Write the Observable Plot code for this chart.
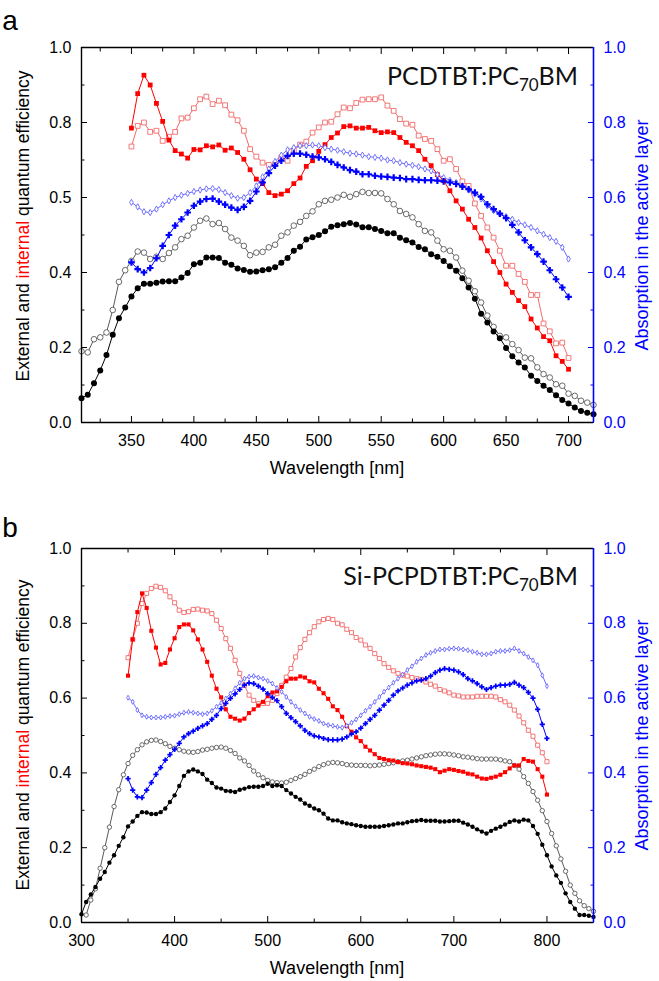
<!DOCTYPE html>
<html><head><meta charset="utf-8">
<script src="https://cdn.jsdelivr.net/npm/d3@7"></script>
<script src="https://cdn.jsdelivr.net/npm/@observablehq/plot@0.6"></script>
<style>
body{margin:0;background:#fff;}
#chart svg{display:block;}
</style>
</head><body><div id="chart"></div>
<script>
const STEP = 5; // nm between measurement points

// ---------- Panel a : PCDTBT:PC70BM ----------
const aStartEQE = 310, aStartIQE = 350;
const aEQE = [0.065,0.074,0.105,0.139,0.18,0.234,0.278,0.307,0.336,0.358,0.37,0.37,0.373,0.376,0.377,0.377,0.387,0.399,0.422,
0.426,0.44,0.44,0.439,0.426,0.421,0.411,0.407,0.402,0.403,0.406,0.409,0.414,0.426,0.439,0.458,0.469,0.488,0.494,0.5,
0.51,0.522,0.526,0.529,0.532,0.528,0.521,0.521,0.516,0.511,0.505,0.505,0.493,0.486,0.48,0.468,0.462,0.449,0.442,0.431,
0.417,0.405,0.385,0.36,0.33,0.29,0.267,0.243,0.225,0.199,0.177,0.16,0.147,0.125,0.111,0.098,0.087,0.073,0.06,0.051,
0.04,0.031,0.026,0.022];
const aEQE2 = [0.19,0.187,0.222,0.227,0.24,0.3,0.375,0.406,0.431,0.456,0.453,0.436,0.442,0.436,0.452,0.467,0.489,0.498,0.52,
0.538,0.544,0.529,0.532,0.516,0.493,0.485,0.471,0.446,0.453,0.455,0.467,0.474,0.498,0.507,0.525,0.535,0.551,0.563,0.582,
0.591,0.594,0.6,0.607,0.602,0.609,0.615,0.612,0.612,0.611,0.596,0.582,0.564,0.556,0.547,0.529,0.511,0.507,0.485,0.462,
0.458,0.44,0.405,0.378,0.35,0.32,0.285,0.255,0.231,0.227,0.209,0.193,0.173,0.171,0.147,0.129,0.12,0.102,0.098,0.077,
0.071,0.058,0.053,0.047];
const aIQE = [0.785,0.877,0.926,0.9,0.851,0.803,0.753,0.725,0.716,0.705,0.728,
0.727,0.738,0.735,0.74,0.726,0.732,0.72,0.702,0.674,0.649,0.637,0.613,0.605,0.609,0.618,0.637,0.652,0.683,0.698,0.723,
0.741,0.76,0.772,0.789,0.791,0.785,0.785,0.787,0.778,0.773,0.775,0.773,0.76,0.747,0.738,0.725,0.702,0.685,0.661,0.645,
0.618,0.591,0.569,0.542,0.52,0.492,0.458,0.429,0.4,0.369,0.347,0.325,0.309,0.276,0.252,0.229,0.218,0.178,0.163,0.142];
const aIQE2 = [0.736,0.791,0.8,0.775,0.778,0.751,0.762,0.775,0.811,0.813,0.838,
0.862,0.869,0.849,0.858,0.846,0.821,0.806,0.778,0.729,0.709,0.693,0.687,0.689,0.707,0.698,0.725,0.741,0.749,0.773,0.787,
0.8,0.802,0.822,0.84,0.838,0.852,0.861,0.862,0.862,0.867,0.845,0.831,0.809,0.797,0.794,0.765,0.756,0.751,0.729,0.698,
0.702,0.676,0.643,0.631,0.584,0.551,0.52,0.493,0.458,0.418,0.418,0.396,0.375,0.34,0.34,0.264,0.243,0.211,0.213,0.172];
const aAbs = [0.427,0.409,0.4,0.412,0.438,0.471,0.5,0.525,0.542,0.56,0.578,
0.589,0.596,0.597,0.589,0.581,0.573,0.567,0.575,0.591,0.616,0.64,0.665,0.685,0.698,0.711,0.717,0.717,0.714,0.709,0.707,
0.702,0.695,0.687,0.68,0.673,0.669,0.662,0.662,0.658,0.656,0.655,0.653,0.652,0.649,0.649,0.647,0.646,0.646,0.645,0.643,
0.64,0.636,0.629,0.622,0.613,0.602,0.582,0.569,0.557,0.545,0.527,0.507,0.486,0.467,0.449,0.429,0.406,0.382,0.36,0.335];
const aAbs2 = [0.587,0.575,0.562,0.56,0.569,0.581,0.591,0.6,0.606,0.611,0.616,
0.62,0.623,0.624,0.621,0.613,0.605,0.598,0.6,0.613,0.631,0.655,0.676,0.696,0.713,0.727,0.733,0.738,0.738,0.74,0.738,
0.733,0.729,0.726,0.722,0.718,0.716,0.713,0.709,0.707,0.705,0.7,0.698,0.693,0.689,0.686,0.682,0.676,0.671,0.661,0.653,
0.646,0.64,0.631,0.62,0.609,0.596,0.578,0.565,0.556,0.549,0.542,0.533,0.527,0.52,0.511,0.502,0.493,0.483,0.467,0.436];

// ---------- Panel b : Si-PCPDTBT:PC70BM ----------
const bStartEQE = 300, bStartEQE2 = 305, bStartIQE = 350;
const bEQE = [0.022,0.055,0.075,0.095,0.117,0.135,0.16,0.18,0.205,0.228,0.257,0.27,0.285,0.295,0.294,0.29,0.29,0.295,0.305,0.322,0.34,
0.365,0.392,0.404,0.409,0.404,0.397,0.382,0.373,0.361,0.358,0.352,0.351,0.349,0.355,0.358,0.362,0.363,0.363,0.365,0.371,
0.365,0.367,0.365,0.354,0.345,0.336,0.329,0.318,0.312,0.305,0.3,0.291,0.278,0.273,0.273,0.268,0.265,0.263,0.26,0.258,
0.256,0.256,0.256,0.256,0.258,0.26,0.262,0.265,0.265,0.268,0.271,0.272,0.274,0.272,0.272,0.272,0.27,0.27,0.271,0.272,
0.272,0.267,0.262,0.256,0.249,0.243,0.238,0.245,0.251,0.256,0.262,0.269,0.273,0.27,0.275,0.273,0.258,0.237,0.208,0.18,
0.15,0.126,0.106,0.078,0.055,0.037,0.02,0.02,0.018,0.015];
const bEQE2 = [0.02,0.06,0.09,0.145,0.2,0.255,0.31,0.355,0.395,0.425,0.447,0.462,0.475,0.483,0.487,0.488,0.484,0.478,0.471,0.466,
0.462,0.458,0.456,0.455,0.457,0.461,0.463,0.466,0.468,0.469,0.466,0.46,0.452,0.44,0.432,0.42,0.405,0.395,0.387,0.38,
0.376,0.374,0.373,0.375,0.38,0.385,0.39,0.396,0.404,0.41,0.417,0.422,0.426,0.428,0.427,0.425,0.422,0.421,0.42,0.42,
0.42,0.419,0.42,0.421,0.423,0.425,0.427,0.43,0.432,0.434,0.437,0.44,0.443,0.446,0.448,0.45,0.451,0.451,0.45,0.448,
0.446,0.443,0.442,0.44,0.438,0.437,0.437,0.437,0.437,0.435,0.432,0.43,0.42,0.41,0.39,0.372,0.35,0.327,0.299,0.27,
0.238,0.205,0.17,0.137,0.1,0.078,0.058,0.045,0.037,0.03];
const bIQE = [0.66,0.757,0.83,0.88,0.841,0.78,0.735,0.69,0.694,0.73,0.76,
0.79,0.797,0.797,0.781,0.757,0.73,0.697,0.66,0.625,0.602,0.57,0.55,0.545,0.54,0.545,0.56,0.57,0.58,0.59,0.605,
0.615,0.618,0.63,0.645,0.652,0.652,0.658,0.655,0.645,0.642,0.625,0.613,0.598,0.578,0.568,0.55,0.525,0.51,0.495,0.485,
0.47,0.46,0.45,0.44,0.437,0.434,0.433,0.429,0.426,0.425,0.423,0.42,0.418,0.416,0.414,0.41,0.402,0.406,0.41,0.408,
0.405,0.403,0.398,0.396,0.39,0.385,0.384,0.387,0.39,0.395,0.402,0.412,0.42,0.42,0.437,0.432,0.43,0.41,0.39,0.342];
const bIQE2 = [0.708,0.757,0.8,0.853,0.88,0.893,0.899,0.896,0.887,0.871,0.855,
0.835,0.829,0.831,0.837,0.838,0.835,0.833,0.826,0.808,0.786,0.759,0.733,0.701,0.666,0.634,0.608,0.594,0.585,0.586,0.586,
0.594,0.612,0.634,0.656,0.679,0.71,0.735,0.757,0.775,0.791,0.804,0.81,0.813,0.81,0.8,0.796,0.784,0.775,0.762,0.755,
0.742,0.733,0.719,0.706,0.692,0.682,0.673,0.666,0.661,0.659,0.655,0.652,0.65,0.643,0.637,0.632,0.623,0.619,0.614,0.608,
0.606,0.603,0.603,0.603,0.605,0.605,0.605,0.605,0.603,0.596,0.59,0.581,0.568,0.552,0.534,0.514,0.498,0.474,0.454,0.43];
const bAbs = [0.385,0.354,0.336,0.334,0.354,0.374,0.396,0.414,0.434,0.449,0.463,
0.479,0.496,0.505,0.512,0.519,0.526,0.532,0.543,0.554,0.572,0.586,0.599,0.611,0.623,0.635,0.641,0.639,0.632,0.624,0.612,
0.602,0.593,0.577,0.559,0.548,0.537,0.526,0.514,0.505,0.499,0.496,0.492,0.489,0.488,0.488,0.49,0.496,0.504,0.51,0.52,
0.532,0.543,0.554,0.568,0.581,0.594,0.608,0.619,0.627,0.635,0.641,0.646,0.648,0.652,0.659,0.668,0.675,0.679,0.677,0.675,
0.67,0.663,0.652,0.646,0.639,0.63,0.623,0.628,0.632,0.635,0.635,0.637,0.642,0.635,0.628,0.615,0.6,0.57,0.53,0.492];
const bAbs2 = [0.601,0.59,0.568,0.554,0.55,0.548,0.548,0.548,0.55,0.552,0.553,
0.557,0.561,0.563,0.561,0.559,0.557,0.559,0.566,0.577,0.587,0.599,0.612,0.626,0.641,0.652,0.657,0.659,0.655,0.652,0.646,
0.639,0.627,0.617,0.603,0.59,0.578,0.568,0.559,0.55,0.544,0.539,0.532,0.528,0.526,0.523,0.521,0.526,0.534,0.543,0.554,
0.566,0.577,0.59,0.603,0.617,0.628,0.641,0.652,0.663,0.675,0.685,0.697,0.706,0.715,0.721,0.726,0.73,0.73,0.732,0.733,
0.732,0.73,0.728,0.724,0.721,0.717,0.717,0.719,0.724,0.726,0.726,0.728,0.733,0.726,0.719,0.71,0.701,0.688,0.661,0.632];

// ---------- ticks & labels ----------
const aXTicks = [350,400,450,500,550,600,650,700];
const aXMinor = [325,375,425,475,525,575,625,675];
const bXTicks = [300,400,500,600,700,800];
const bXMinor = [350,450,550,650,750];
const yTicks = [0,0.2,0.4,0.6,0.8,1];
const yMinor = [0.1,0.3,0.5,0.7,0.9];
const aLeftLabels = ["0.0","0.2","0.4","0.5","0.8","1.0"];
const bLeftLabels = ["0.0","0.2","0.4","0.6","0.8","1.0"];
const rightLabels = ["0.0","0.2","0.4","0.6","0.8","1.0"];

const BLUE = "#0000ff";
const SANS = "'Liberation Sans', Arial, sans-serif";
const STY = {
  eqe:  {line:"#000000", symbol:"circle",  fill:"#000000", stroke:"none"},
  eqe2: {line:"#5a5a5a", symbol:"circle",  fill:"#ffffff", stroke:"#5a5a5a"},
  iqe:  {line:"#ff0000", symbol:"square",  fill:"#ff0000", stroke:"none"},
  iqe2: {line:"#f26a6a", symbol:"square",  fill:"#ffffff", stroke:"#f26a6a"},
  abs:  {line:"#0000ff", symbol:"cross",   fill:"#0000ff", stroke:"none"},
  abs2: {line:"#6868ff", symbol:"diamond", fill:"#ffffff", stroke:"#6868ff"}
};

function labelAt(labels) {
  return d => labels[yTicks.findIndex(t => Math.abs(t - d) < 1e-9)];
}

function makePanel(p) {
  const marks = [];
  for (const s of p.series) {
    const rows = s.values.map((v, i) => ({wl: s.start + STEP * i, v}));
    const st = STY[s.style];
    marks.push(Plot.line(rows, {x: "wl", y: "v", stroke: st.line, strokeWidth: 1}));
    marks.push(Plot.dot(rows, {x: "wl", y: "v", symbol: st.symbol, r: p.r[s.style],
      fill: st.fill, stroke: st.stroke, strokeWidth: 0.9}));
  }
  const svg = Plot.plot({
    width: 659, height: p.height,
    marginLeft: 81, marginRight: 66, marginTop: p.mt, marginBottom: p.mb,
    style: {fontFamily: SANS, fontSize: "16px", color: "#000", background: "#fff"},
    x: {domain: p.xDomain},
    y: {domain: [0, 1]},
    marks: [
      Plot.axisX({ticks: p.xTicks, tickSize: -6, tickPadding: 18, tickFormat: d => String(d), label: null, fontSize: 16}),
      Plot.axisX({ticks: p.xMinor, tickSize: -3.5, tickFormat: () => "", label: null}),
      Plot.axisX({anchor: "top", ticks: p.xTicks, tickSize: -6, tickFormat: () => "", label: null}),
      Plot.axisX({anchor: "top", ticks: p.xMinor, tickSize: -3.5, tickFormat: () => "", label: null}),
      Plot.axisY({ticks: yTicks, tickSize: -6, tickPadding: 16, tickFormat: labelAt(p.leftLabels), label: null, fontSize: 16}),
      Plot.axisY({ticks: yMinor, tickSize: -3.5, tickFormat: () => "", label: null}),
      Plot.axisY({anchor: "right", ticks: yTicks, tickSize: -6, tickPadding: 16, tickFormat: labelAt(rightLabels), color: BLUE, label: null, fontSize: 16}),
      Plot.axisY({anchor: "right", ticks: yMinor, tickSize: -3.5, tickFormat: () => "", color: BLUE, label: null}),
      ...marks,
      Plot.ruleX([p.xDomain[0]], {stroke: "#000", strokeWidth: 1.4}),
      Plot.ruleY([0], {stroke: "#000", strokeWidth: 1.4}),
      Plot.ruleY([1], {stroke: "#000", strokeWidth: 1.4}),
      Plot.ruleX([p.xDomain[1]], {stroke: BLUE, strokeWidth: 1.6})
    ]
  });
  const g = d3.select(svg);
  // panel letter
  g.append("text").attr("x", 10).attr("y", p.letterY).attr("font-family", SANS).attr("font-size", 28).text(p.letter);
  // material title with subscript
  const t = g.append("text").attr("x", 578).attr("y", p.titleY).attr("text-anchor", "end")
    .attr("font-family", "Lato, 'Open Sans', sans-serif").attr("font-size", 25).attr("fill", "#111");
  t.append("tspan").text(p.title[0]);
  t.append("tspan").attr("font-size", 17).attr("dy", 6).text(p.title[1]);
  t.append("tspan").attr("dy", -6).text(p.title[2]);
  // left y title
  const ly = g.append("text").attr("transform", `translate(29,${p.leftTitleY}) rotate(-90)`)
    .attr("text-anchor", "middle").attr("font-family", SANS).attr("font-size", 17.5);
  ly.append("tspan").text("External and ");
  ly.append("tspan").attr("fill", "#ff0000").text("internal");
  ly.append("tspan").text(" quantum efficiency");
  // right y title
  g.append("text").attr("transform", `translate(648,${p.rightTitleY}) rotate(-90)`)
    .attr("text-anchor", "middle").attr("font-family", SANS).attr("font-size", 18).attr("fill", BLUE)
    .text("Absorption in the active layer");
  // x title
  g.append("text").attr("x", 337).attr("y", p.xTitleY).attr("text-anchor", "middle")
    .attr("font-family", SANS).attr("font-size", 18).text("Wavelength [nm]");
  return svg;
}

const panelA = makePanel({
  height: 490, mt: 47, mb: 68, xDomain: [310, 720],
  xTicks: aXTicks, xMinor: aXMinor, leftLabels: aLeftLabels,
  letter: "a", letterY: 30, title: ["PCDTBT:PC", "70", "BM"], titleY: 85,
  leftTitleY: 226, rightTitleY: 235, xTitleY: 474,
  r: {eqe: 3, eqe2: 2.8, iqe: 2.7, iqe2: 2.7, abs: 2.8, abs2: 1.9},
  series: [
    {start: aStartEQE, values: aEQE2, style: "eqe2"},
    {start: aStartEQE, values: aEQE, style: "eqe"},
    {start: aStartIQE, values: aIQE2, style: "iqe2"},
    {start: aStartIQE, values: aIQE, style: "iqe"},
    {start: aStartIQE, values: aAbs2, style: "abs2"},
    {start: aStartIQE, values: aAbs, style: "abs"}
  ]
});

const panelB = makePanel({
  height: 491, mt: 58, mb: 59, xDomain: [300, 850],
  xTicks: bXTicks, xMinor: bXMinor, leftLabels: bLeftLabels,
  letter: "b", letterY: 47, title: ["Si-PCPDTBT:PC", "70", "BM"], titleY: 95,
  leftTitleY: 245, rightTitleY: 245, xTitleY: 484,
  r: {eqe: 2.2, eqe2: 2.2, iqe: 2.3, iqe2: 2.3, abs: 2.2, abs2: 1.5},
  series: [
    {start: bStartEQE2, values: bEQE2, style: "eqe2"},
    {start: bStartEQE, values: bEQE, style: "eqe"},
    {start: bStartIQE, values: bIQE2, style: "iqe2"},
    {start: bStartIQE, values: bIQE, style: "iqe"},
    {start: bStartIQE, values: bAbs2, style: "abs2"},
    {start: bStartIQE, values: bAbs, style: "abs"}
  ]
});

const chart = document.getElementById("chart");
chart.appendChild(panelA);
chart.appendChild(panelB);
</script>
</body></html>
